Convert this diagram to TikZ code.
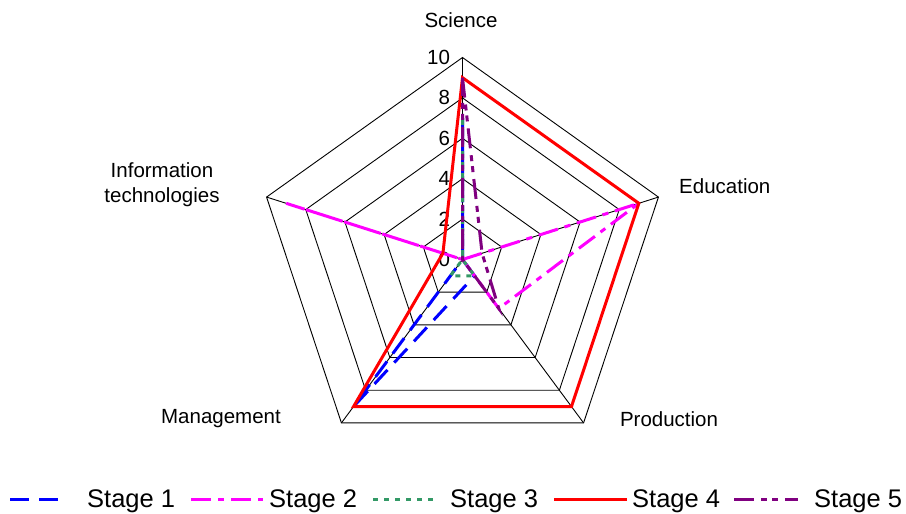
\documentclass[tikz,border=0pt]{standalone}
\usepackage{fontspec}
\setmainfont{Liberation Sans}
\usepackage{tikz}
\usetikzlibrary{positioning}
\definecolor{seagreen}{RGB}{51,153,102}
\definecolor{plum}{RGB}{128,0,128}
\definecolor{fuchsia}{RGB}{255,0,255}
\definecolor{pureblue}{RGB}{0,0,255}
\definecolor{purered}{RGB}{255,0,0}
\tikzstyle{grid} = [black,line width=0.9pt]
\tikzstyle{stageone} = [pureblue,line width=3pt,dash pattern=on 19pt off 10pt]
\tikzstyle{stagetwo} = [fuchsia,line width=3pt,dash pattern=on 20pt off 7pt on 6pt off 7pt]
\tikzstyle{stagethree} = [seagreen,line width=3pt,dash pattern=on 5pt off 6pt]
\tikzstyle{stagefour} = [purered,line width=3pt]
\tikzstyle{stagefive} = [plum,line width=3pt,dash pattern=on 20pt off 7pt on 6pt off 5pt on 6pt off 7pt]
\tikzstyle{lbl} = [font=\fontsize{20.5}{25}\selectfont,inner sep=0pt]
\tikzstyle{leg} = [font=\fontsize{25.5}{30}\selectfont,inner sep=0pt]
\tikzset{>=latex}

\begin{document}
\begin{tikzpicture}[x=1pt,y=1pt]
    \useasboundingbox (0,0) rectangle (906,514);
    \begin{scope}[shift={(462.5pt,254.5pt)},x=20.6pt,y=20.2pt]
      % rings and spokes
      \foreach \r in {2,4,...,10}
        \draw [grid] (90:\r) -- (18:\r) -- (-54:\r) -- (-126:\r) -- (162:\r) -- cycle;
      \foreach \a in {90,18,-54,-126,162}
        \draw [grid] (0,0) -- (\a:10);
      \foreach \r in {0,2,...,10}
        \node [lbl,anchor=east] (tick\r) at (-0.6,\r) {\r};
      % stages: science, education, production, management, IT
      \draw [stageone] (90:7) -- (18:0) -- (-54:1) -- (-126:9) -- (162:0) -- cycle;
      \draw [stagetwo] (90:0) -- (18:9) -- (-54:3) -- (-126:0) -- (162:9) -- cycle;
      \draw [stagethree] (90:7) -- (18:0) -- (-54:1) -- (-126:1) -- (162:0) -- cycle;
      \draw [stagefour] (90:9) -- (18:9) -- (-54:9) -- (-126:9) -- (162:1) -- cycle;
      \draw [stagefive] (90:9) -- (18:1) -- (-54:3) -- (-126:0) -- (162:0) -- cycle;
    \end{scope}
    \node [lbl] (science) at (461,494) {Science};
    \node [lbl,anchor=west] (education) at (679,328) {Education};
    \node [lbl] (production) at (669,95) {Production};
    \node [lbl] (management) at (221,95) {Management};
    \node [lbl,align=center] (infotech) at (162,329) {Information\\technologies};
    % legend
    \draw [stageone] (10,14) -- (68,14);
    \node [leg,anchor=west] (legone) at (87,13) {Stage 1};
    \draw [stagetwo] (191,14) -- (263,14);
    \node [leg,anchor=west] (legtwo) at (269,13) {Stage 2};
    \draw [stagethree] (373,14) -- (436,14);
    \node [leg,anchor=west] (legthree) at (450,13) {Stage 3};
    \draw [stagefour] (554,14) -- (627,14);
    \node [leg,anchor=west] (legfour) at (632,13) {Stage 4};
    \draw [stagefive] (734,14) -- (798,14);
    \node [leg,anchor=west] (legfive) at (814,13) {Stage 5};
  \end{tikzpicture}
\end{document}
